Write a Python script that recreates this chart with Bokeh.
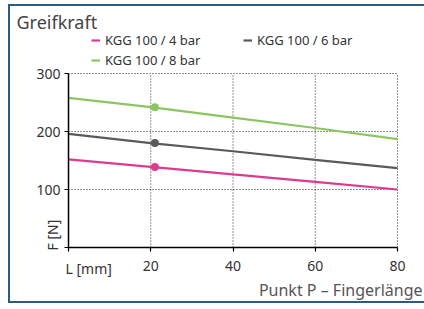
from bokeh.plotting import figure
from bokeh.models import Range1d, Label, Legend, LegendItem, FixedTicker
from bokeh.embed import file_html
from bokeh.resources import INLINE
import math

# ---- data ----
finger_length = [0, 20, 40, 60, 80]
force_4bar = [152, 139, 126, 113, 100]
force_6bar = [196, 180, 166, 151, 137]
force_8bar = [258, 242, 224, 206, 187]
marker_x = [21, 21, 21]
marker_y = [139, 180, 242]
series_names = ["KGG 100 / 4 bar", "KGG 100 / 6 bar", "KGG 100 / 8 bar"]
series_colors = ["#de3a8f", "#5a5a5c", "#8cc660"]
x_ticks = [0, 20, 40, 60, 80]
y_ticks = [0, 100, 200, 300]
x_grid = [20, 40, 60, 80]
y_grid = [100, 200, 300]

FONT = "Noto Sans"

# canvas origin sits at page (8, 4); frame covers the whole canvas,
# axes are pinned at x=0 / y=0 inside it.
p = figure(width=416, height=299, output_backend="svg", toolbar_location=None,
           x_range=Range1d(-14.59, 86.565), y_range=Range1d(-96.55, 418.97),
           min_border_left=0, min_border_right=0, min_border_top=0, min_border_bottom=0)
p.styles = {"margin-left": "8px", "margin-top": "4px",
            "box-shadow": "inset 2px 2px 0 0 #2c5a85, inset 0 -2px 0 0 #2c5a85"}
p.border_fill_color = None
p.background_fill_color = None
p.outline_line_color = None
p.title.visible = False
p.xgrid.visible = False
p.ygrid.visible = False

p.xaxis.fixed_location = 0
p.yaxis.fixed_location = 0
p.xaxis.bounds = (x_ticks[0], x_ticks[-1])
p.yaxis.bounds = (y_ticks[0], y_ticks[-1])

for ax in (p.xaxis[0], p.yaxis[0]):
    ax.axis_line_color = "black"
    ax.axis_line_width = 1.5
    ax.major_tick_line_color = "black"
    ax.major_tick_line_width = 1.2
    ax.major_tick_out = 4
    ax.major_tick_in = 0
    ax.minor_tick_line_color = None
    ax.major_label_text_font = FONT
    ax.major_label_text_font_size = "14px"
    ax.major_label_text_color = "#333333"

p.xaxis.ticker = FixedTicker(ticks=x_ticks)
p.yaxis.ticker = FixedTicker(ticks=y_ticks)
p.xaxis.major_label_overrides = {0: ""}
p.yaxis.major_label_overrides = {0: ""}
p.xaxis.major_label_standoff = 9
p.yaxis.major_label_standoff = 4

# dotted grid
p.segment(x0=x_grid, y0=[y_ticks[0]] * len(x_grid), x1=x_grid, y1=[y_ticks[-1]] * len(x_grid),
          line_color="black", line_dash="1 2", line_width=1, line_alpha=0.85)
p.segment(x0=[x_ticks[0]] * len(y_grid), y0=y_grid, x1=[x_ticks[-1]] * len(y_grid), y1=y_grid,
          line_color="black", line_dash="1 2", line_width=1, line_alpha=0.85)

renderers = []
for ys, col in zip([force_4bar, force_6bar, force_8bar], series_colors):
    r = p.line(finger_length, ys, line_color=col, line_width=2.2)
    renderers.append(r)
p.scatter(marker_x, marker_y, size=8, color=series_colors, line_color=None)

legend = Legend(items=[LegendItem(label=n, renderers=[r]) for n, r in zip(series_names, renderers)],
                location=(83, 234), orientation="horizontal", ncols=2,
                glyph_width=9, glyph_height=16, label_height=16, label_width=136,
                label_standoff=5, spacing=2, padding=0, margin=0,
                border_line_color=None, background_fill_color=None,
                label_text_font=FONT, label_text_font_size="13px", label_text_color="#333333")
p.add_layout(legend, "center")

p.add_layout(Label(x=0, y=300, text="Greifkraft", x_offset=-52, y_offset=52,
                   text_font=FONT, text_font_size="18px", text_color="#444444",
                   text_align="left", text_baseline="alphabetic"))
p.add_layout(Label(x=80, y=0, text="Punkt P \u2013 Fingerl\u00e4nge", x_offset=25, y_offset=-42,
                   text_font=FONT, text_font_size="16px", text_color="#555555",
                   text_align="right", text_baseline="alphabetic"))
p.add_layout(Label(x=0, y=0, text="L [mm]", x_offset=-3, y_offset=-21,
                   text_font=FONT, text_font_size="14px", text_color="#333333",
                   text_align="left", text_baseline="middle"))
p.add_layout(Label(x=0, y=0, text="F [N]", x_offset=-16, y_offset=-3, angle=math.pi / 2,
                   text_font=FONT, text_font_size="14px", text_color="#333333",
                   text_align="left", text_baseline="middle"))

open("out.html", "w").write(file_html(p, INLINE))
